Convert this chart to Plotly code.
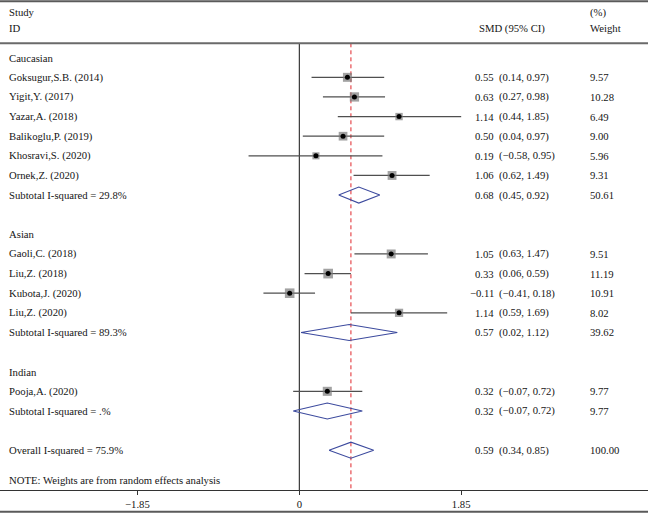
import plotly.graph_objects as go

W, H = 648, 513

# ---------------- data ----------------
studies = ["Goksugur,S.B. (2014)", "Yigit,Y. (2017)", "Yazar,A. (2018)",
           "Balikoglu,P. (2019)", "Khosravi,S. (2020)", "Ornek,Z. (2020)",
           "Gaoli,C. (2018)", "Liu,Z. (2018)", "Kubota,J. (2020)", "Liu,Z. (2020)",
           "Pooja,A. (2020)"]
study_group = ["Caucasian"] * 6 + ["Asian"] * 4 + ["Indian"]
smd = [0.55, 0.63, 1.14, 0.50, 0.19, 1.06, 1.05, 0.33, -0.11, 1.14, 0.32]
ci_low = [0.14, 0.27, 0.44, 0.04, -0.58, 0.62, 0.63, 0.06, -0.41, 0.59, -0.07]
ci_high = [0.97, 0.98, 1.85, 0.97, 0.95, 1.49, 1.47, 0.59, 0.18, 1.69, 0.72]
weights = [9.57, 10.28, 6.49, 9.00, 5.96, 9.31, 9.51, 11.19, 10.91, 8.02, 9.77]

groups = ["Caucasian", "Asian", "Indian"]
sub_label = ["Subtotal I-squared = 29.8%", "Subtotal I-squared = 89.3%",
             "Subtotal I-squared = .%"]
sub_smd = [0.68, 0.57, 0.32]
sub_low = [0.45, 0.02, -0.07]
sub_high = [0.92, 1.12, 0.72]
sub_weight = [50.61, 39.62, 9.77]

overall_label = "Overall I-squared = 75.9%"
overall_smd = 0.59
overall_low = 0.34
overall_high = 0.85
overall_weight = 100.00

note = "NOTE: Weights are from random effects analysis"
header_left = ["Study", "ID"]
header_mid = "SMD (95% CI)"
header_right = ["(%)", "Weight"]

tick_vals = [-1.85, 0, 1.85]
tick_text = ["\u22121.85", "0", "1.85"]

# ---------------- layout helpers ----------------
FONT = "Liberation Serif"
FS = 10.7
TXT = "#151515"
X0_PX, UNIT_PX = 299.3, 87.5
x_range = [(0 - X0_PX) / UNIT_PX, (W - X0_PX) / UNIT_PX]
ROW0, ROWH = 57.7, 19.625


def row_y(i):
    return ROW0 + ROWH * i


def fmt(v):
    return f"{v:.2f}".replace("-", "\u2212")


# assign rows
label_rows = []   # (text, y)
study_y = []
sub_y = []
r = 0
for g_i, g in enumerate(groups):
    label_rows.append((g, row_y(r)))
    r += 1
    for s_i, s in enumerate(studies):
        if study_group[s_i] == g:
            study_y.append(row_y(r))
            r += 1
    sub_y.append(row_y(r))
    r += 2
overall_y = row_y(r)
note_y = 479.5
axis_y = 490.0
header_line_y = 43.3

fig = go.Figure()

# study CIs + gray boxes
fig.add_trace(go.Scatter(
    x=smd, y=study_y, mode="markers",
    marker=dict(symbol="square", color="#7a7a7a",
                size=[2.9 * w ** 0.5 for w in weights], line=dict(width=0)),
    error_x=dict(type="data", symmetric=False,
                 array=[h - e for h, e in zip(ci_high, smd)],
                 arrayminus=[e - l for e, l in zip(smd, ci_low)],
                 width=0, color="#4f4f4f", thickness=1.3),
    hoverinfo="skip", showlegend=False))
# centre dots
fig.add_trace(go.Scatter(
    x=smd, y=study_y, mode="markers",
    marker=dict(symbol="circle", color="black", size=5),
    hoverinfo="skip", showlegend=False))

# diamonds
dx, dy = [], []
HALF = 8
for est, lo, hi, yy in list(zip(sub_smd, sub_low, sub_high, sub_y)) + \
        [(overall_smd, overall_low, overall_high, overall_y)]:
    dx += [lo, est, hi, est, lo, None]
    dy += [yy, yy - HALF, yy, yy + HALF, yy, None]
fig.add_trace(go.Scatter(x=dx, y=dy, mode="lines",
                         line=dict(color="#3c4a9e", width=1.1),
                         hoverinfo="skip", showlegend=False))

# ---------------- text ----------------
ann = []


def add_text(txt, px, y, anchor="left"):
    ann.append(dict(text=txt, x=px / W, xref="paper", y=y, yref="y",
                    xanchor=anchor, yanchor="middle", showarrow=False,
                    font=dict(family=FONT, size=FS, color=TXT)))


LX, WX = 7, 588
add_text(header_left[0], LX, 12.4)
add_text(header_left[1], LX, 28)
add_text(header_mid, 476.5, 28)
add_text(header_right[0], WX, 12.4)
add_text(header_right[1], WX, 28)

for txt, yy in label_rows:
    add_text(txt, LX, yy)
for s, yy, e, lo, hi, w in zip(studies, study_y, smd, ci_low, ci_high, weights):
    add_text(s, LX, yy)
    add_text(fmt(e), 496, yy, "right")
    add_text(f"({fmt(lo)}, {fmt(hi)})", 496.5, yy)
    add_text(f"{w:.2f}", WX, yy)
for s, yy, e, lo, hi, w in zip(sub_label, sub_y, sub_smd, sub_low, sub_high, sub_weight):
    add_text(s, LX, yy)
    add_text(fmt(e), 496, yy, "right")
    add_text(f"({fmt(lo)}, {fmt(hi)})", 496.5, yy)
    add_text(f"{w:.2f}", WX, yy)
add_text(overall_label, LX, overall_y)
add_text(fmt(overall_smd), 496, overall_y, "right")
add_text(f"({fmt(overall_low)}, {fmt(overall_high)})", 496.5, overall_y)
add_text(f"{overall_weight:.2f}", WX, overall_y)
add_text(note, LX, note_y)

# ---------------- shapes ----------------
shapes = [
    dict(type="line", xref="paper", yref="y", x0=0, x1=1, y0=1.2, y1=1.2,
         line=dict(color="#5a5a5a", width=2)),
    dict(type="line", xref="paper", yref="y", x0=0, x1=1, y0=header_line_y, y1=header_line_y,
         line=dict(color="#6a6a6a", width=2)),
    dict(type="line", xref="paper", yref="y", x0=0, x1=1, y0=511.8, y1=511.8,
         line=dict(color="#5a5a5a", width=2)),
    dict(type="line", xref="x", yref="y", x0=0, x1=0, y0=header_line_y, y1=axis_y,
         line=dict(color="#111111", width=1), layer="below"),
    dict(type="line", xref="x", yref="y", x0=overall_smd, x1=overall_smd,
         y0=header_line_y, y1=axis_y,
         line=dict(color="#e0262b", width=1, dash="4px,3px"), layer="below"),
]

fig.update_layout(
    width=W, height=H, margin=dict(l=0, r=0, t=0, b=0),
    paper_bgcolor="white", plot_bgcolor="white",
    annotations=ann, shapes=shapes, showlegend=False,
    xaxis=dict(range=x_range, domain=[0, 1], anchor="free",
               position=(H - axis_y) / H,
               tickvals=tick_vals, ticktext=tick_text,
               ticks="outside", ticklen=4, tickcolor="#333", tickwidth=1,
               showline=True, linecolor="#333", linewidth=1.3,
               showgrid=False, zeroline=False,
               tickfont=dict(family=FONT, size=FS, color=TXT)),
    yaxis=dict(range=[H, 0], domain=[0, 1], visible=False,
               showgrid=False, zeroline=False),
)

fig.write_html("out.html", config={"displayModeBar": False, "staticPlot": True},
               post_script="document.body.style.margin='0';document.body.style.overflow='hidden';")
